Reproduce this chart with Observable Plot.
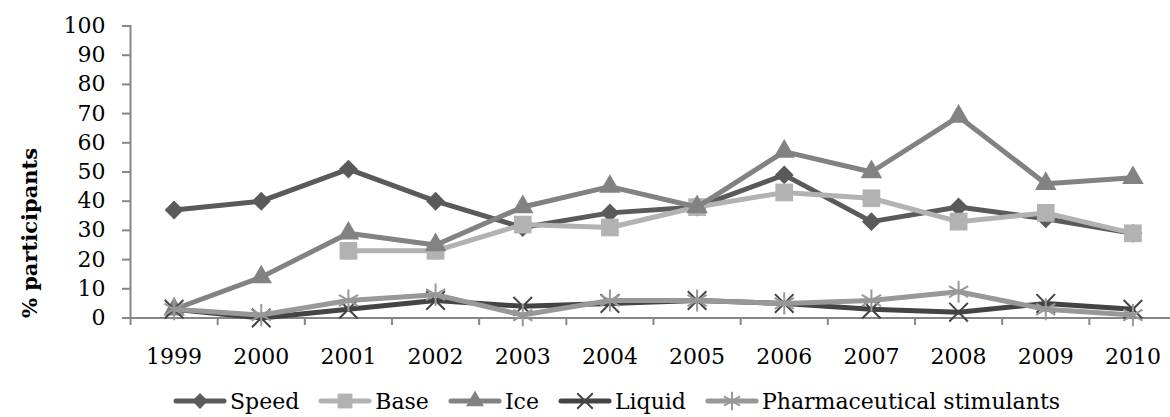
<!DOCTYPE html>
<html>
<head>
<meta charset="utf-8">
<script src="https://cdn.jsdelivr.net/npm/d3@7"></script>
<script src="https://cdn.jsdelivr.net/npm/@observablehq/plot@0.6"></script>
<style>
  body { margin: 0; background: #fff; font-family: "DejaVu Serif", serif; }
  #chart svg { display: block; }
  #legend { display: flex; align-items: center; height: 32px; padding-left: 173px; font-size: 22px; color: #000; white-space: nowrap; }
  #legend .item { display: flex; align-items: center; margin-right: 19px; }
  #legend svg { display: block; margin-right: 3px; }
</style>
</head>
<body>
<div id="chart"></div>
<div id="legend"></div>
<script>
// Survey years and percentage of participants reporting each form of methamphetamine
const years = [1999, 2000, 2001, 2002, 2003, 2004, 2005, 2006, 2007, 2008, 2009, 2010];
const speed = [37, 40, 51, 40, 31, 36, 38, 49, 33, 38, 34, 29];
const base = [null, null, 23, 23, 32, 31, 38, 43, 41, 33, 36, 29];
const ice = [3, 14, 29, 25, 38, 45, 38, 57, 50, 69, 46, 48];
const liquid = [3, 0, 3, 6, 4, 5, 6, 5, 3, 2, 5, 3];
const pharma = [3, 1, 6, 8, 1, 6, 6, 5, 6, 9, 3, 1];
const seriesNames = ["Speed", "Base", "Ice", "Liquid", "Pharmaceutical stimulants"];
const yTicks = [0, 10, 20, 30, 40, 50, 60, 70, 80, 90, 100];
const yLabel = "% participants";

const seriesValues = [speed, base, ice, liquid, pharma];

// Appearance of each series: line colour, marker shape and size
const styles = {
  "Speed": {color: "#5a5a5a", symbol: "diamond2", d3symbol: d3.symbolDiamond2, r: 8.5, filled: true},
  "Base": {color: "#b2b2b2", symbol: "square", d3symbol: d3.symbolSquare, r: 10, filled: true},
  "Ice": {color: "#828282", symbol: "triangle", d3symbol: d3.symbolTriangle, r: 8, filled: true},
  "Liquid": {color: "#444444", symbol: "times", d3symbol: d3.symbolTimes, r: 8.5, filled: false},
  "Pharmaceutical stimulants": {color: "#989898", symbol: "asterisk", d3symbol: d3.symbolAsterisk, r: 10.5, filled: false}
};

// Long table built from the arrays above (gaps are skipped)
const rows = [];
seriesNames.forEach((name, i) => {
  years.forEach((yr, j) => {
    const v = seriesValues[i][j];
    if (v != null) rows.push({series: name, year: yr, value: v});
  });
});

// Category boundaries for the x-axis tick marks
const bounds = d3.range(years.length + 1).map(k => years[0] - 0.5 + k);

const axisColor = "#868686";
const marks = [
  Plot.ruleX([bounds[0]], {stroke: axisColor, strokeWidth: 2}),
  Plot.axisY(yTicks, {tickSize: 8, tickPadding: 17, stroke: axisColor, strokeWidth: 2, fontSize: 22, fill: "#000", label: null}),
  Plot.axisX(bounds, {tickSize: 7, tickFormat: () => "", stroke: axisColor, strokeWidth: 2, label: null}),
  Plot.axisX(years, {tickSize: 0, tickPadding: 30, tickFormat: d => String(d), fontSize: 22, fill: "#000", label: null}),
  Plot.ruleY([0], {stroke: axisColor, strokeWidth: 2}),
  Plot.text([yLabel], {frameAnchor: "left", textAnchor: "middle", text: d => d, rotate: -90, dx: -100, dy: 61, fontSize: 21, fontWeight: "bold", fill: "#000"})
];

for (const name of seriesNames) {
  const s = styles[name];
  const data = rows.filter(d => d.series === name);
  marks.push(Plot.line(data, {x: "year", y: "value", stroke: s.color, strokeWidth: 5, strokeLinejoin: "round", strokeLinecap: "round"}));
  marks.push(Plot.dot(data, {
    x: "year", y: "value", symbol: s.symbol, r: s.r,
    fill: s.filled ? s.color : "none",
    stroke: s.filled ? "none" : s.color,
    strokeWidth: s.filled ? 0 : 2
  }));
}

const chart = Plot.plot({
  width: 1170,
  height: 385,
  marginLeft: 130,
  marginRight: 0,
  marginTop: 25,
  marginBottom: 67,
  style: {fontFamily: "DejaVu Serif", fontSize: "22px", background: "#fff", color: "#000", overflow: "visible"},
  x: {type: "linear", domain: [bounds[0], bounds[bounds.length - 1]], range: [130, 1176], axis: null},
  y: {domain: [0, 100], range: [317.5, 25.5], axis: null},
  marks
});
document.getElementById("chart").append(chart);

// Legend: line swatch with the series marker, then its name
const legend = d3.select("#legend");
for (const name of seriesNames) {
  const s = styles[name];
  const item = legend.append("div").attr("class", "item");
  const svg = item.append("svg").attr("width", 54).attr("height", 24);
  svg.append("line")
    .attr("x1", 3).attr("x2", 51).attr("y1", 12).attr("y2", 12)
    .attr("stroke", s.color).attr("stroke-width", 5).attr("stroke-linecap", "round");
  svg.append("path")
    .attr("transform", "translate(27,12)")
    .attr("d", d3.symbol(s.d3symbol, Math.PI * s.r * s.r * 0.7)())
    .attr("fill", s.filled ? s.color : "none")
    .attr("stroke", s.filled ? "none" : s.color)
    .attr("stroke-width", s.filled ? 0 : 2);
  item.append("span").text(name);
}
</script>
</body>
</html>
